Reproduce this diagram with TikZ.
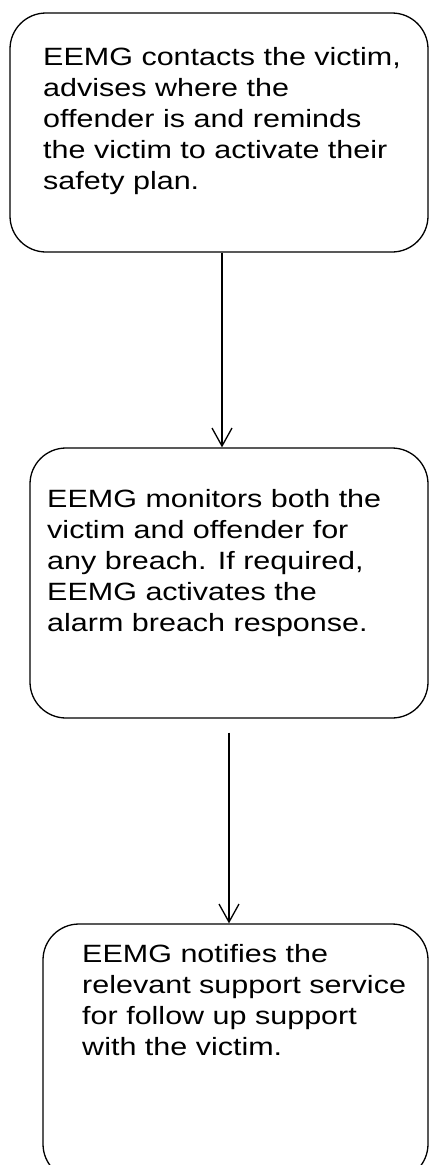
\documentclass[tikz,border=0pt]{standalone}
\usepackage{fontspec}
\setmainfont{Liberation Sans}
\usetikzlibrary{arrows.meta}
\begin{document}
\begin{tikzpicture}[x=1pt,y=1pt,
  boxstyle/.style={draw=black, line width=1.3pt, rounded corners=36pt, inner sep=0pt},
  txt/.style={anchor=base west, align=left, inner sep=0pt, transform shape, font=\fontsize{25}{30.8}\selectfont},
  arr/.style={draw=black, line width=1.3pt, -{Straight Barb[length=18pt,width=20pt,line width=1.3pt]}}
]
\useasboundingbox (0,0) rectangle (429,-1165);
\clip (0,0) rectangle (429,-1165);
\node[boxstyle, minimum width=418pt, minimum height=239pt] (b1) at (219,-132.5) {};
\node[boxstyle, minimum width=398pt, minimum height=270pt] (b2) at (229,-583) {};
\node[boxstyle, minimum width=385pt, minimum height=256pt] (b3) at (235.5,-1052) {};
\begin{scope}[shift={(43,-189)}, xscale=1.22]
\node[txt] (t1) at (0,0) {EEMG contacts the victim,\\advises where the\\offender is and reminds\\the victim to activate their\\safety plan.};
\end{scope}
\begin{scope}[shift={(47,-631)}, xscale=1.22]
\node[txt] (t2) at (0,0) {EEMG monitors both the\\victim and offender for\\any breach. If required,\\EEMG activates the\\alarm breach response.};
\end{scope}
\begin{scope}[shift={(82,-1055)}, xscale=1.22]
\node[txt] (t3) at (0,0) {EEMG notifies the\\relevant support service\\for follow up support\\with the victim.};
\end{scope}
\draw[arr] ([xshift=3pt]b1.south) -- ([xshift=-7pt]b2.north);
\draw[arr] ([yshift=-14pt]b2.south) -- ([xshift=-6.5pt]b3.north);
\end{tikzpicture}
\end{document}
